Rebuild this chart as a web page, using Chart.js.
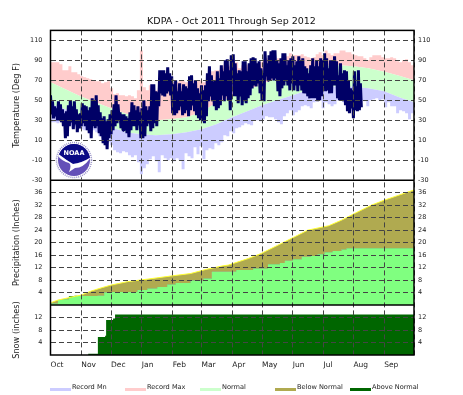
<!DOCTYPE html>
<html>
<head>
<meta charset="utf-8">
<title>KDPA climate plot</title>
<script src="https://cdn.jsdelivr.net/npm/chart.js@4"></script>
<style>
  html, body { margin: 0; padding: 0; background: #fff; }
  canvas { display: block; }
</style>
</head>
<body>
<canvas id="myChart" width="463" height="395"></canvas>
<script>
// month starts, counted in days from Oct 1
var monthStarts = [0, 31, 61, 92, 123, 152, 183, 213, 244, 275, 305, 336, 366];
var monthNames = ["Oct", "Nov", "Dec", "Jan", "Feb", "Mar", "Apr", "May", "Jun", "Jul", "Aug", "Sep", ""];

var tempTicks = [110, 90, 70, 50, 30, 10, -10, -30];
var precipTicks = [36, 32, 28, 24, 20, 16, 12, 8, 4];
var snowTicks = [12, 8, 4];

// observed temperature, one reading every 2 days from Oct 1
var obsHigh = [55,49,44,42,49,46,41,37,39,45,50,44,49,41,36,37,47,45,44,40,43,52,50,55,45,38,32,34,29,31,36,40,46,55,46,38,36,36,34,32,38,48,45,40,44,38,
  42,50,44,40,44,66,66,59,58,80,80,80,77,83,77,74,66,70,59,67,59,66,64,62,74,75,67,70,62,57,65,60,65,77,84,75,69,70,79,72,85,79,90,91,80,95,
  96,87,77,80,79,89,89,79,87,92,93,92,87,89,82,77,99,87,95,99,100,100,90,87,92,97,97,85,90,92,94,85,89,94,90,92,84,82,77,85,92,84,90,84,92,90,97,
  92,82,90,90,94,89,75,87,77,80,79,70,62,60,79,64,80,67];
var obsLow = [36,32,34,30,30,28,24,12,14,24,28,21,26,18,22,24,27,24,20,17,12,24,22,24,17,14,7,5,1,12,16,20,24,27,30,22,20,22,17,13,20,24,24,20,25,12,
  12,14,24,27,19,22,27,24,44,57,55,54,57,59,55,37,35,37,40,44,35,37,40,34,40,45,39,35,32,30,29,27,34,49,54,49,44,40,42,45,55,49,54,50,40,67,
  54,54,47,54,45,49,47,52,55,62,65,64,67,57,50,49,74,70,70,72,70,72,59,54,62,65,69,65,60,67,60,65,59,65,60,57,57,54,52,52,52,52,49,50,54,64,59,
  60,57,57,65,65,52,50,50,49,45,39,37,42,32,40,39,40,43];

// records, one reading every 3 days from Oct 1
var recordMax = [88,88,88,86,80,80,84,78,78,76,74,73,72,71,70,69,69,67,68,69,62,
  56,57,55,55,54,55,54,52,60,100,
  63,60,65,62,60,62,62,65,66,60,68,68,70,70,68,68,70,69,70,70,68,70,79,79,80,80,82,85,85,84,90,
  88,82,85,86,85,90,88,86,88,90,92,90,88,90,92,90,92,94,97,95,95,95,96,94,93,92,93,96,98,95,100,
  97,95,97,97,100,100,98,98,96,95,94,94,92,90,93,95,95,95,93,92,92,93,92,89,88,90,91,88,85,85];
var recordMin = [28,28,27,30,28,24,25,22,24,22,21,20,20,18,20,18,14,12,10,8,5,
  0,-2,-3,-1,-2,-5,-7,-5,-12,-24,
  -18,-14,-9,-6,-11,-22,-5,-8,-10,-8,-11,-8,-10,-19,-3,-6,-8,3,-4,4,-9,0,2,1,7,5,8,15,14,19,17,
  22,23,25,27,26,25,30,30,29,31,34,33,33,31,28,26,34,37,40,35,38,40,44,45,44,42,48,50,50,42,48,
  46,44,46,50,50,48,46,46,46,47,48,50,49,44,50,51,52,50,51,43,48,44,44,37,40,39,37,31,37,38];

// normals
var normHighDays = [0,15,30,45,61,76,91,106,122,137,152,163,175,183,198,213,228,244,259,274,290,305,320,336,351,366];
var normHigh = [68,61,54,48,42,36.5,32,30,31,33,38,45,50,55,60,66,72,76,81,84.5,85,84,82,78.5,74.5,70];
var normLowDays = [0,15,30,45,61,76,91,106,122,137,152,167,183,198,213,228,244,259,274,290,305,320,336,351,366];
var normLow = [46,41,34,27,23,18,16,15,16,18,21,26,33,39,45,50,55,60,63,64,63.5,62,59,53,48];

// precipitation accumulations
var normPrecipDays = [0,1,7.5,17.5,31,41,51,61,77.5,97.5,121,141,157.5,174,179,199,212,229,246,259,280,293,306,323,336,366];
var normPrecip = [0.5,0.85,1.6,2.3,3.2,4.5,5.5,6.4,7.5,8.3,9.3,10.1,11.5,12.6,12.8,14.9,16.5,19.2,21.9,24,25.4,27.2,29.3,32,33.6,36.9];
var obsPrecipDays = [0,7.5,12.5,18.5,24,32.5,47.5,54,59,87.5,97.5,107.5,117.5,126,141,154,162.5,187,204,219,231,236,244,253,262,269,276,284,293,298,366];
var obsPrecip = [0.5,1.6,1.9,2.8,3,2.9,3,4,4.2,4.8,5.3,5.8,6.6,7.1,7.9,8.5,10.7,11.2,11.7,13.1,13.5,14.2,14.7,15.5,15.7,16.3,16.9,17.3,17.8,18.2,18.2];

// snow accumulation
var snowDays = [0,38,47.7,55,56,63,65,366];
var snow = [0,0.4,5.8,6.2,11.2,11.7,13,13];

var legendNames = ["Record Mn", "Record Max", "Normal", "Below Normal", "Above Normal"];
var legendColors = ["#ccccff", "#ffcccc", "#ccffcc", "#b0aa50", "#006600"];

var FONT = "'DejaVu Sans'";

function pairs(days, vals) {
  return vals.map(function (v, i) { return { x: days[i], y: v }; });
}
function everyN(vals, n) {
  return vals.map(function (v, i) { return { x: i * n, y: v }; });
}
// high then low of each reading, so the line zigzags between them
function zigzag(highs, lows) {
  var out = [];
  highs.forEach(function (h, i) {
    out.push({ x: i * 2, y: h });
    out.push({ x: i * 2 + 1, y: lows[i] });
  });
  return out;
}

function fixTicks(list) {
  return function (scale) {
    scale.ticks = list.map(function (v) { return { value: v }; });
  };
}

function yAxis(pos, min, max, weight, list, title) {
  var left = pos == "left";
  return {
    type: "linear",
    position: pos,
    stack: pos,
    stackWeight: weight,
    min: min,
    max: max,
    afterBuildTicks: fixTicks(list),
    afterFit: function (scale) { scale.width = left ? 50.5 : 49; },
    border: { display: false, dash: [5, 3] },
    grid: { display: left, color: "#444", lineWidth: 1, drawTicks: false, z: 1 },
    ticks: { color: "#222", font: { family: FONT, size: 6.5 }, padding: left ? 8 : 4, autoSkip: false },
    title: {
      display: left && !!title,
      text: title,
      color: "#222",
      font: { family: FONT, size: 8.2, weight: "normal" },
      padding: { top: 12, bottom: 0 }
    }
  };
}

// NOAA seal, panel borders and the legend strip
var decorations = {
  id: "decorations",
  afterDraw: function (chart) {
    var ctx = chart.ctx;
    var s = chart.scales;
    var area = chart.chartArea;

    ctx.save();
    var cx = 74, cy = 160;
    ctx.beginPath(); ctx.arc(cx, cy, 19, 0, Math.PI * 2); ctx.fillStyle = "#fff"; ctx.fill();
    ctx.setLineDash([1, 1]); ctx.strokeStyle = "#9a94c8"; ctx.lineWidth = 1.5;
    ctx.beginPath(); ctx.arc(cx, cy, 17.5, 0, Math.PI * 2); ctx.stroke();
    ctx.setLineDash([]);
    ctx.beginPath(); ctx.arc(cx, cy, 16, 0, Math.PI * 2); ctx.fillStyle = "#6450b8"; ctx.fill();
    ctx.save();
    ctx.beginPath(); ctx.arc(cx, cy, 16, 0, Math.PI * 2); ctx.clip();
    ctx.fillStyle = "#0a0a85";
    ctx.beginPath();
    ctx.moveTo(cx - 17, cy - 17); ctx.lineTo(cx + 17, cy - 17); ctx.lineTo(cx + 17, cy - 3);
    ctx.quadraticCurveTo(cx + 8, cy + 3, cx - 1, cy + 4);
    ctx.quadraticCurveTo(cx - 8, cy, cx - 17, cy - 7);
    ctx.closePath(); ctx.fill();
    ctx.fillStyle = "#fff";
    ctx.beginPath();
    ctx.moveTo(cx - 17, cy - 7);
    ctx.quadraticCurveTo(cx - 8, cy, cx - 1, cy + 4);
    ctx.quadraticCurveTo(cx + 8, cy + 3, cx + 17, cy - 3);
    ctx.quadraticCurveTo(cx + 10, cy + 8, cx + 1, cy + 8);
    ctx.lineTo(cx - 5, cy + 12);
    ctx.quadraticCurveTo(cx - 2, cy + 5, cx - 5, cy + 3);
    ctx.quadraticCurveTo(cx - 12, cy + 1, cx - 17, cy - 5);
    ctx.closePath(); ctx.fill();
    ctx.restore();
    ctx.fillStyle = "#fff";
    ctx.font = "bold 6.5px " + FONT;
    ctx.textAlign = "center";
    ctx.textBaseline = "middle";
    ctx.fillText("NOAA", cx, cy - 7);

    ctx.strokeStyle = "#000";
    ctx.lineWidth = 1.5;
    ctx.strokeRect(area.left, area.top, area.right - area.left, area.bottom - area.top);
    [s.yT.bottom, s.yP.bottom].forEach(function (y) {
      ctx.beginPath(); ctx.moveTo(area.left, y); ctx.lineTo(area.right, y); ctx.stroke();
    });

    ctx.textAlign = "left";
    ctx.font = "6.6px " + FONT;
    legendNames.forEach(function (name, i) {
      var x = 50 + i * 75;
      ctx.fillStyle = legendColors[i];
      ctx.fillRect(x, 388, 21, 3);
      ctx.fillStyle = "#222";
      ctx.fillText(name, x + 22, 387);
    });
    ctx.restore();
  }
};

var myChart = new Chart(document.getElementById("myChart"), {
  type: "line",
  plugins: [decorations],
  data: {
    datasets: [
      {
        label: "Observed", yAxisID: "yT", order: -1, pointRadius: 0, fill: false,
        data: zigzag(obsHigh, obsLow),
        borderColor: "#000066",
        borderWidth: 3,
        borderJoinStyle: "bevel"
      },
      {
        label: "Record Max", yAxisID: "yT", order: 5, stepped: true, borderWidth: 0, pointRadius: 0,
        data: everyN(recordMax, 3), backgroundColor: "#ffcccc", fill: 2
      },
      {
        label: "Normal", yAxisID: "yT", order: 4, borderWidth: 0, pointRadius: 0,
        data: pairs(normHighDays, normHigh), backgroundColor: "#ccffcc", fill: 3
      },
      {
        label: "Normal Low", yAxisID: "yT", order: 3, borderWidth: 0, pointRadius: 0,
        data: pairs(normLowDays, normLow), backgroundColor: "#ccccff", fill: 4
      },
      {
        label: "Record Mn", yAxisID: "yT", order: 2, stepped: true, borderWidth: 0, pointRadius: 0,
        data: everyN(recordMin, 3), fill: false
      },
      {
        label: "Normal Precip", yAxisID: "yP", order: 1, borderWidth: 1, borderColor: "#ffff33", pointRadius: 0,
        data: pairs(normPrecipDays, normPrecip),
        fill: { target: 6, above: "#b0aa50", below: "#006600" }
      },
      {
        label: "Precip", yAxisID: "yP", order: 6, stepped: true, borderWidth: 0, pointRadius: 0,
        data: pairs(obsPrecipDays, obsPrecip), backgroundColor: "#80ff80", fill: "origin"
      },
      {
        label: "Snow", yAxisID: "yS", order: 1, stepped: true, borderWidth: 0, pointRadius: 0,
        data: pairs(snowDays, snow), backgroundColor: "#006600", fill: "origin"
      }
    ]
  },
  options: {
    responsive: false,
    animation: false,
    layout: { padding: { left: 0, right: 0, top: 0, bottom: 22 } },
    plugins: {
      legend: { display: false },
      tooltip: { enabled: false },
      title: {
        display: true,
        text: "KDPA - Oct 2011 Through Sep 2012",
        color: "#111",
        font: { family: FONT, size: 9.5, weight: "normal" },
        padding: { top: 16, bottom: 3 }
      }
    },
    scales: {
      x: {
        type: "linear",
        position: "bottom",
        min: 0,
        max: 366,
        offset: false,
        afterBuildTicks: fixTicks(monthStarts),
        afterFit: function (scale) { scale.height = 18; },
        border: { display: false, dash: [5, 3] },
        grid: { color: "#444", lineWidth: 1, drawTicks: false, z: 1 },
        ticks: {
          align: "start",
          autoSkip: false,
          maxRotation: 0,
          padding: 6,
          color: "#222",
          font: { family: FONT, size: 7.5 },
          callback: function (v) { return monthNames[monthStarts.indexOf(v)]; }
        }
      },
      yS: yAxis("left", 0, 16, 50, snowTicks, "Snow (inches)"),
      yP: yAxis("left", 0, 40, 125, precipTicks, "Precipitation (Inches)"),
      yT: yAxis("left", -30, 120, 150, tempTicks, "Temperature (Deg F)"),
      rT: yAxis("right", -30, 120, 150, tempTicks),
      rP: yAxis("right", 0, 40, 125, precipTicks),
      rS: yAxis("right", 0, 16, 50, snowTicks)
    }
  }
});
</script>
</body>
</html>
